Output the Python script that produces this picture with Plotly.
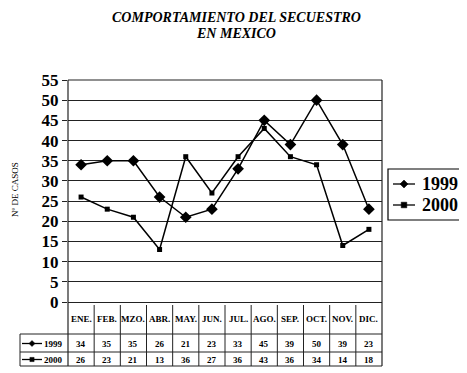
import plotly.graph_objects as go

months = ["ENE.", "FEB.", "MZO.", "ABR.", "MAY.", "JUN.", "JUL.", "AGO.", "SEP.", "OCT.", "NOV.", "DIC."]
s1999 = [34, 35, 35, 26, 21, 23, 33, 45, 39, 50, 39, 23]
s2000 = [26, 23, 21, 13, 36, 27, 36, 43, 36, 34, 14, 18]
series_names = ["1999", "2000"]
yticks = list(range(0, 56, 5))
title_lines = ["COMPORTAMIENTO DEL SECUESTRO", "EN MEXICO"]

FONT = "Liberation Serif"
# page offset of the figure (body margin)
OX, OY = 8, 8
PAGE_W, PAGE_H = 467, 373
PL, PR, PT, PB = 68, 382, 80, 302  # plot area in page pixels
W, H = PAGE_W - OX, PAGE_H - OY
L, T = PL - OX, PT - OY
R, B = PAGE_W - PR, PAGE_H - PB
PW, PH = PR - PL, PB - PT

def px_x(px):
    return (px - PL) / PW

def px_y(py):
    return (PB - py) / PH

fig = go.Figure()
fig.add_trace(go.Scatter(x=months, y=s1999, name=series_names[0], mode="lines+markers",
                         line=dict(color="black", width=1.5),
                         marker=dict(symbol="diamond", size=9, color="black")))
fig.add_trace(go.Scatter(x=months, y=s2000, name=series_names[1], mode="lines+markers",
                         line=dict(color="black", width=1.5),
                         marker=dict(symbol="square", size=5, color="black")))

shapes = []
ann = []
line_c = "#222"
y_hdr = px_y(334)
y_mid = px_y(352)
y_bot = px_y(366)
x_lab = px_x(20)
n = len(months)

def hline(x0, x1, y, w=1):
    shapes.append(dict(type="line", xref="paper", yref="paper", x0=x0, x1=x1, y0=y, y1=y,
                       line=dict(color=line_c, width=w)))

def vline(x, y0, y1, w=1):
    shapes.append(dict(type="line", xref="paper", yref="paper", x0=x, x1=x, y0=y0, y1=y1,
                       line=dict(color=line_c, width=w)))

def key(px_c, py_c, half_len, idx, msize):
    shapes.append(dict(type="line", xref="paper", yref="paper",
                       x0=px_x(px_c - half_len), x1=px_x(px_c + half_len), y0=px_y(py_c), y1=px_y(py_c),
                       line=dict(color="black", width=1.3)))
    cx, cy = px_x(px_c), px_y(py_c)
    if idx == 0:
        dx, dy = msize / PW, msize / PH
        path = f"M {cx-dx},{cy} L {cx},{cy+dy} L {cx+dx},{cy} L {cx},{cy-dy} Z"
    else:
        dx, dy = msize * 0.7 / PW, msize * 0.7 / PH
        path = f"M {cx-dx},{cy-dy} L {cx+dx},{cy-dy} L {cx+dx},{cy+dy} L {cx-dx},{cy+dy} Z"
    shapes.append(dict(type="path", xref="paper", yref="paper", path=path, fillcolor="black",
                       line=dict(color="black", width=0.5)))

def text(x, y, s, size, xref="paper", xanchor="center", bold=True, angle=0):
    ann.append(dict(x=x, y=y, xref=xref, yref="paper", xanchor=xanchor, yanchor="middle",
                    text=s, showarrow=False, textangle=angle,
                    font=dict(family=FONT, size=size, color="black", weight="bold" if bold else "normal")))

# plot borders
hline(0, 1, 1, 1.2)
vline(0, 1, y_bot, 1.2)
vline(1, 1, y_bot, 1.2)
# table grid
for k in range(1, n):
    vline(k / n, px_y(305), y_bot)
for yy in (y_hdr, y_mid, y_bot):
    hline(x_lab, 1, yy)
vline(x_lab, y_hdr, y_bot)

row_py = [343.5, 359.5]
for i, ry in enumerate(row_py):
    key(32, ry, 10, i, 3)
    text(px_x(65), px_y(ry), series_names[i], 9, xanchor="right")

for m, a, b in zip(months, s1999, s2000):
    text(m, px_y(319), m, 9, xref="x")
    text(m, px_y(row_py[0]), str(a), 9, xref="x")
    text(m, px_y(row_py[1]), str(b), 9, xref="x")

# legend box (drawn manually)
shapes.append(dict(type="rect", xref="paper", yref="paper", x0=px_x(388), x1=px_x(461),
                   y0=px_y(169), y1=px_y(220), line=dict(color="black", width=1.2), fillcolor="white"))
leg_py = [184, 205]
for i, ly in enumerate(leg_py):
    key(404, ly, 11, i, 4)
    text(px_x(420), px_y(ly), series_names[i], 18, xanchor="left")

for txt, ty in zip(title_lines, [17, 34]):
    text(px_x(236), px_y(ty), f"<i>{txt}</i>", 14)
text(px_x(15), px_y(190), "Nº DE CASOS", 9, bold=False, angle=-90)

fig.update_layout(
    width=W, height=H, margin=dict(l=L, r=R, t=T, b=B, autoexpand=False),
    paper_bgcolor="white", plot_bgcolor="white",
    showlegend=False,
    shapes=shapes, annotations=ann,
    xaxis=dict(range=[-0.5, n - 0.5], showticklabels=False, showgrid=False, zeroline=False,
               showline=False, ticks="", automargin=False),
    yaxis=dict(range=[0, 55], tickvals=yticks, showgrid=True, gridcolor=line_c, gridwidth=1,
               zeroline=True, zerolinecolor=line_c, zerolinewidth=1, automargin=False,
               ticks="outside", ticklen=5, tickcolor=line_c, showline=False,
               tickfont=dict(family=FONT, size=17, color="black", weight="bold")),
    font=dict(family=FONT, color="black"),
)

fig.write_html("out.html")
